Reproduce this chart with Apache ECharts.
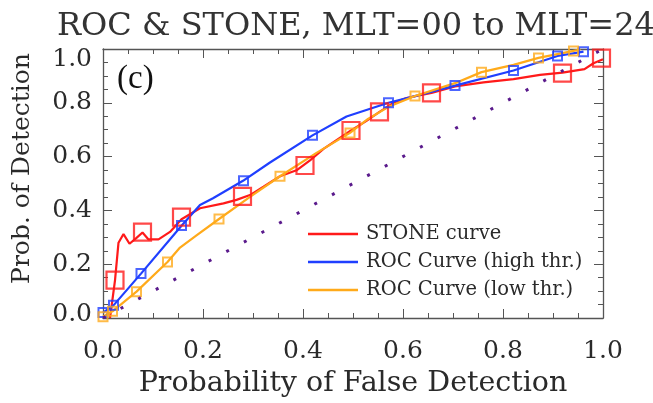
<!DOCTYPE html>
<html>
<head>
<meta charset="utf-8">
<script src="https://cdn.jsdelivr.net/npm/echarts@6/dist/echarts.min.js"></script>
<style>
  html, body { margin: 0; padding: 0; background: #fff; }
  #chart { width: 653px; height: 403px; }
</style>
</head>
<body>
<div id="chart"></div>
<script>
// Axis tick labels (both axes run 0..1 in steps of 0.2)
const tickLabels = ['0.0', '0.2', '0.4', '0.6', '0.8', '1.0'];

// STONE curve: [POFD, POD]
const stoneCurve = [
  [0.014, 0.0], [0.024, 0.14], [0.031, 0.28], [0.041, 0.312], [0.053, 0.276],
  [0.067, 0.298], [0.079, 0.318], [0.091, 0.292], [0.111, 0.292], [0.134, 0.32],
  [0.157, 0.367], [0.194, 0.408], [0.241, 0.426], [0.267, 0.439], [0.294, 0.457],
  [0.321, 0.488], [0.354, 0.527], [0.387, 0.549], [0.414, 0.586], [0.441, 0.629],
  [0.496, 0.697], [0.527, 0.733], [0.553, 0.766], [0.581, 0.800], [0.607, 0.818],
  [0.657, 0.837], [0.704, 0.861], [0.761, 0.876], [0.821, 0.888], [0.874, 0.904],
  [0.919, 0.912], [0.963, 0.925], [0.981, 0.947], [1.0, 0.962]
];
const stoneMarks = [
  [0.024, 0.141], [0.079, 0.319], [0.157, 0.375], [0.279, 0.452], [0.404, 0.567],
  [0.496, 0.697], [0.553, 0.766], [0.657, 0.837], [0.919, 0.91], [0.997, 0.966]
];

// ROC curve, high threshold
const rocHigh = [
  [0.0, 0.02], [0.021, 0.047], [0.076, 0.165], [0.157, 0.343], [0.194, 0.42],
  [0.22, 0.445], [0.28, 0.51], [0.334, 0.578], [0.419, 0.679], [0.487, 0.749],
  [0.571, 0.80], [0.624, 0.825], [0.704, 0.864], [0.821, 0.92], [0.909, 0.974],
  [0.961, 0.99]
];
const rocHighMarks = [
  [0.0, 0.02], [0.021, 0.047], [0.076, 0.165], [0.157, 0.344], [0.281, 0.51],
  [0.419, 0.679], [0.571, 0.80], [0.704, 0.864], [0.821, 0.92], [0.909, 0.974],
  [0.961, 0.99]
];

// ROC curve, low threshold
const rocLow = [
  [0.0, 0.005], [0.019, 0.025], [0.067, 0.098], [0.129, 0.208], [0.154, 0.262],
  [0.187, 0.307], [0.232, 0.368], [0.294, 0.45], [0.354, 0.527], [0.427, 0.614],
  [0.494, 0.688], [0.53, 0.74], [0.571, 0.785], [0.624, 0.825], [0.704, 0.873],
  [0.757, 0.914], [0.821, 0.941], [0.871, 0.967], [0.941, 0.993], [0.955, 0.998]
];
const rocLowMarks = [
  [0.0, 0.005], [0.019, 0.025], [0.067, 0.098], [0.129, 0.208], [0.232, 0.368],
  [0.354, 0.527], [0.494, 0.688], [0.624, 0.825], [0.757, 0.914], [0.871, 0.967],
  [0.941, 0.993]
];

// No-skill reference line
const diagonal = [[0, 0], [1, 1]];

const RED = '#ff1a1a', BLUE = '#1f3fff', ORANGE = '#ffaa1a', PURPLE = '#5a1a8c';
const AXIS = '#555';
const TEXT = '#2a2a2a';
const SERIF = '"DejaVu Serif", serif';

function tickText(v) {
  return tickLabels[Math.round(v / 0.2)];
}

// y labels at the ends of the axis are pulled inside the frame
function yTickText(v) {
  const i = Math.round(v / 0.2);
  if (i === 0) return '{lo|' + tickLabels[i] + '}';
  if (i === tickLabels.length - 1) return '{hi|' + tickLabels[i] + '}';
  return tickLabels[i];
}

function frameAxis(pos, showLabels) {
  return {
    type: 'value', position: pos, min: 0, max: 1, interval: 0.2,
    axisLine: { show: true, onZero: false, lineStyle: { color: AXIS, width: 1.3 } },
    axisTick: { show: true, inside: true, length: 9, lineStyle: { color: AXIS, width: 1 } },
    minorTick: { show: true, splitNumber: 4, length: 5, lineStyle: { color: AXIS, width: 1 } },
    splitLine: { show: false },
    minorSplitLine: { show: false },
    axisLabel: { show: showLabels }
  };
}

const labelFont = { fontFamily: SERIF, fontSize: 25, color: TEXT };

const xBottom = Object.assign(frameAxis('bottom', true), {
  name: 'Probability of False Detection',
  nameLocation: 'middle', nameGap: 51,
  nameTextStyle: { fontFamily: SERIF, fontSize: 28.5, color: TEXT },
  axisLabel: Object.assign({ show: true, formatter: tickText, margin: 21 }, labelFont)
});
const xTop = frameAxis('top', false);
const yLeft = Object.assign(frameAxis('left', true), {
  name: 'Prob. of Detection',
  nameLocation: 'middle', nameGap: 68,
  nameTextStyle: { fontFamily: SERIF, fontSize: 25, color: TEXT, padding: [0, 0, 0, 30] },
  axisLabel: Object.assign({
    show: true, formatter: yTickText, margin: 11,
    rich: {
      lo: Object.assign({ padding: [0, 0, 8, 0] }, labelFont),
      hi: Object.assign({ padding: [21, 0, 0, 0] }, labelFont)
    }
  }, labelFont)
});
const yRight = frameAxis('right', false);

function curve(name, data, color) {
  return {
    name: name, type: 'line', data: data, xAxisIndex: 0, yAxisIndex: 0,
    symbol: 'none', smooth: false, clip: true,
    lineStyle: { color: color, width: 2.2 }, itemStyle: { color: color },
    z: 3
  };
}
function marks(name, data, color, size, bw) {
  return {
    name: name, type: 'scatter', data: data, xAxisIndex: 0, yAxisIndex: 0,
    symbol: 'rect', symbolSize: size, clip: true,
    itemStyle: { color: 'transparent', borderColor: color, borderWidth: bw },
    z: 4
  };
}

const option = {
  animation: false,
  backgroundColor: '#fff',
  title: [
    { text: 'ROC & STONE, MLT=00 to MLT=24', left: 52, top: 6,
      textStyle: { fontFamily: SERIF, fontSize: 32, fontWeight: 'normal', color: '#333' } },
    { text: '(c)', left: 112, top: 58,
      textStyle: { fontFamily: '"Liberation Serif", serif', fontSize: 33, fontWeight: 'normal', color: '#111' } }
  ],
  grid: { left: 103, top: 49, width: 500, height: 272, containLabel: false },
  xAxis: [xBottom, xTop],
  yAxis: [yLeft, yRight],
  legend: {
    data: ['STONE curve', 'ROC Curve (high thr.)', 'ROC Curve (low thr.)'],
    orient: 'vertical', left: 303, top: 219,
    icon: 'rect', itemWidth: 50, itemHeight: 2.5, itemGap: 8,
    textStyle: { fontFamily: SERIF, fontSize: 19.5, color: TEXT, padding: [0, 0, 0, 3] },
    selectedMode: false
  },
  series: [
    curve('STONE curve', stoneCurve, RED),
    curve('ROC Curve (high thr.)', rocHigh, BLUE),
    curve('ROC Curve (low thr.)', rocLow, ORANGE),
    marks('STONE points', stoneMarks, RED, 17, 2.2),
    marks('high thr. points', rocHighMarks, BLUE, 9, 2),
    marks('low thr. points', rocLowMarks, ORANGE, 9, 2),
    {
      name: 'no skill', type: 'line', data: diagonal, symbol: 'none',
      lineStyle: { color: PURPLE, width: 3, type: [3, 17] }, z: 5
    }
  ]
};

const chart = echarts.init(document.getElementById('chart'), null, { renderer: 'canvas' });
chart.setOption(option);
</script>
</body>
</html>
